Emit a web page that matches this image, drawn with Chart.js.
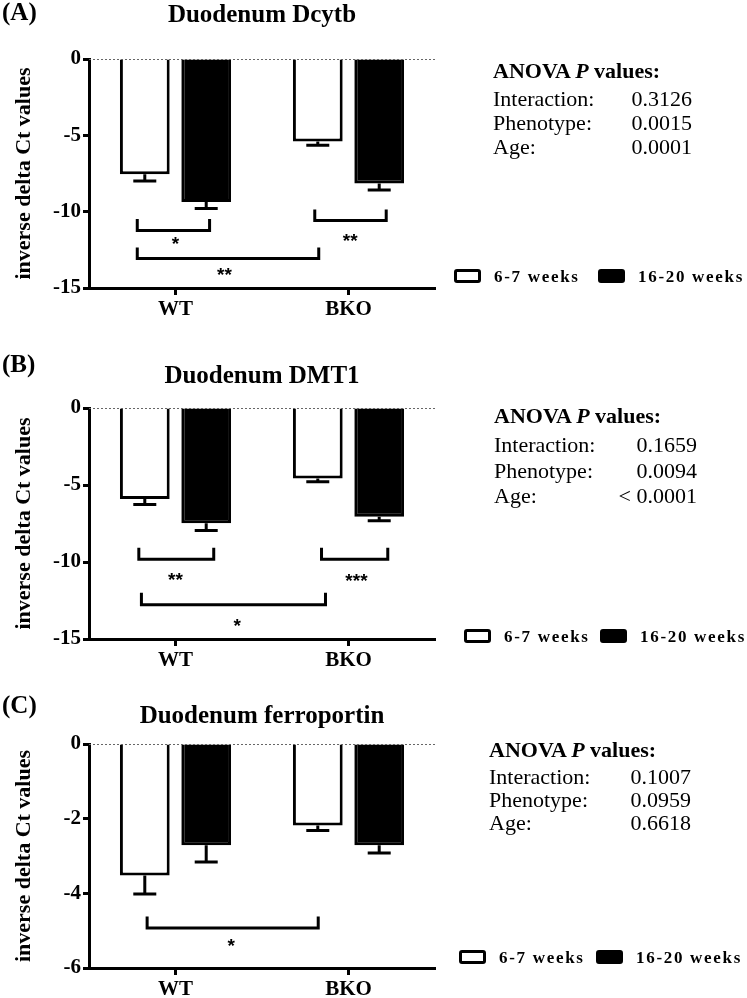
<!DOCTYPE html>
<html>
<head>
<meta charset="utf-8">
<script src="https://cdn.jsdelivr.net/npm/chart.js@4.4.1/dist/chart.umd.min.js"></script>
<style>
  body { margin: 0; background: #fff; }
  #page { position: relative; width: 747px; height: 998px; overflow: hidden; font-family: 'Liberation Serif', 'Times New Roman', serif; color: #000; }
  canvas { position: absolute; left: 0; }
  .abs { position: absolute; white-space: nowrap; }
  .big { font-size: 25px; line-height: 25px; font-weight: bold; }
  .anova { font-size: 22px; line-height: 22px; }
  .leg { font-size: 17px; line-height: 17px; font-weight: bold; letter-spacing: 1.7px; }
  .box { position: absolute; width: 21px; height: 8px; border: 3px solid #000; border-radius: 3px; }
</style>
</head>
<body>
<div id="page">
  <canvas id="chartA" width="747" height="320" style="top:0px"></canvas>
  <canvas id="chartB" width="747" height="360" style="top:320px"></canvas>
  <canvas id="chartC" width="747" height="318" style="top:680px"></canvas>
</div>
<script>
// groups and series
const groups = ['WT', 'BKO'];
const seriesNames = ['6-7 weeks', '16-20 weeks'];

// Duodenum Dcytb (mean, SEM)
const dcytbYoung = [-7.55, -5.41];
const dcytbYoungSem = [0.44, 0.24];
const dcytbOld = [-9.37, -8.15];
const dcytbOldSem = [0.42, 0.43];

// Duodenum DMT1
const dmt1Young = [-5.91, -4.58];
const dmt1YoungSem = [0.35, 0.21];
const dmt1Old = [-7.49, -7.06];
const dmt1OldSem = [0.47, 0.26];

// Duodenum ferroportin
const fpnYoung = [-3.52, -2.18];
const fpnYoungSem = [0.5, 0.14];
const fpnOld = [-2.71, -2.71];
const fpnOldSem = [0.45, 0.21];

// ANOVA P values
const anovaTerms = ['Interaction:', 'Phenotype:', 'Age:'];
const dcytbP = ['0.3126', '0.0015', '0.0001'];
const dmt1P = ['0.1659', '0.0094', '< 0.0001'];
const fpnP = ['0.1007', '0.0959', '0.6618'];

// significance brackets: [from group idx, to group idx, top value, bottom value, stars, star idx, star value]
const dcytbSig = [
  [-0.221, 0.197, -10.58, -11.23, '*', 0, -11.95],
  [-0.221, 0.828, -12.44, -13.07, '**', 0.283, -13.92],
  [0.805, 1.218, -9.96, -10.58, '**', 1.01, -11.73]
];
const dmt1Sig = [
  [-0.212, 0.221, -9.17, -9.82, '**', 0, -10.99],
  [0.844, 1.227, -9.17, -9.82, '***', 1.046, -11.03],
  [-0.197, 0.867, -12.09, -12.78, '*', 0.357, -13.96]
];
const fpnSig = [
  [-0.164, 0.825, -4.66, -4.93, '*', 0.322, -5.32]
];

const SERIF = "'Liberation Serif', 'Times New Roman', serif";

// error bars (down only), dotted zero line and brackets
const extrasPlugin = {
  id: 'extras',
  afterDatasetsDraw(chart, args, opts) {
    const ctx = chart.ctx;
    const xs = chart.scales.x, ys = chart.scales.y;
    const area = chart.chartArea;
    ctx.save();
    // dotted zero line
    ctx.strokeStyle = '#666';
    ctx.lineWidth = 1;
    ctx.setLineDash([2, 2]);
    ctx.beginPath();
    ctx.moveTo(area.left, ys.getPixelForValue(0) + 0.5);
    ctx.lineTo(area.right, ys.getPixelForValue(0) + 0.5);
    ctx.stroke();
    ctx.setLineDash([]);

    ctx.strokeStyle = '#000';
    ctx.lineWidth = 3;
    opts.errors.forEach((errs, di) => {
      chart.getDatasetMeta(di).data.forEach((bar, i) => {
        const v = chart.data.datasets[di].data[i];
        const yEnd = ys.getPixelForValue(v - errs[i]);
        ctx.beginPath();
        ctx.moveTo(bar.x, bar.y);
        ctx.lineTo(bar.x, yEnd);
        ctx.moveTo(bar.x - 11.5, yEnd);
        ctx.lineTo(bar.x + 11.5, yEnd);
        ctx.stroke();
      });
    });

    ctx.lineJoin = 'miter';
    ctx.lineCap = 'square';
    ctx.fillStyle = '#000';
    ctx.font = "bold 19px 'Liberation Sans', Arial, sans-serif";
    ctx.textAlign = 'center';
    ctx.textBaseline = 'alphabetic';
    opts.brackets.forEach(b => {
      const x1 = xs.getPixelForValue(b[0]), x2 = xs.getPixelForValue(b[1]);
      const yt = ys.getPixelForValue(b[2]), yb = ys.getPixelForValue(b[3]);
      ctx.beginPath();
      ctx.moveTo(x1, yt);
      ctx.lineTo(x1, yb);
      ctx.lineTo(x2, yb);
      ctx.lineTo(x2, yt);
      ctx.stroke();
      ctx.fillText(b[4], xs.getPixelForValue(b[5]), ys.getPixelForValue(b[6]) + 9);
    });
    ctx.restore();
  }
};

function makePanel(id, young, youngSem, old, oldSem, sig, yMin, step, topPad, xAxisH) {
  return new Chart(document.getElementById(id), {
    type: 'bar',
    data: {
      labels: groups,
      datasets: [
        { label: seriesNames[0], data: young, backgroundColor: '#fff', borderColor: '#000', borderWidth: 3, borderSkipped: 'start' },
        { label: seriesNames[1], data: old, backgroundColor: '#000', borderColor: '#000', borderWidth: 3, borderSkipped: 'start' }
      ]
    },
    options: {
      responsive: false,
      animation: false,
      categoryPercentage: 0.71,
      barPercentage: 0.81,
      layout: { padding: { top: topPad, left: 0, right: 312, bottom: 0 } },
      plugins: {
        legend: { display: false },
        tooltip: { enabled: false },
        extras: { errors: [youngSem, oldSem], brackets: sig }
      },
      scales: {
        x: {
          ticks: { color: '#000', font: { family: SERIF, size: 21, weight: 'bold' }, padding: 2 },
          grid: { offset: false, drawOnChartArea: false, tickLength: 7, tickWidth: 3, tickColor: '#000' },
          border: { color: '#000', width: 3 },
          afterFit: s => { s.height = xAxisH; }
        },
        y: {
          min: yMin,
          max: 0,
          ticks: { stepSize: step, color: '#000', font: { family: SERIF, size: 21, weight: 'bold' }, padding: 2 },
          grid: { drawOnChartArea: false, tickLength: 6, tickWidth: 3, tickColor: '#000' },
          border: { color: '#000', width: 3 },
          title: { display: true, text: 'inverse delta Ct values', color: '#000', font: { family: SERIF, size: 22, weight: 'bold' }, padding: { top: 11, bottom: 0 } },
          afterFit: s => { s.width = 89; }
        }
      }
    },
    plugins: [extrasPlugin]
  });
}

makePanel('chartA', dcytbYoung, dcytbYoungSem, dcytbOld, dcytbOldSem, dcytbSig, -15, 5, 59, 32);
makePanel('chartB', dmt1Young, dmt1YoungSem, dmt1Old, dmt1OldSem, dmt1Sig, -15, 5, 88, 41);
makePanel('chartC', fpnYoung, fpnYoungSem, fpnOld, fpnOldSem, fpnSig, -6, 2, 64, 30);

// text blocks
const page = document.getElementById('page');
function addText(cls, text, left, top, extra) {
  const d = document.createElement('div');
  d.className = 'abs ' + cls;
  d.textContent = text;
  d.style.left = left + 'px';
  d.style.top = top + 'px';
  if (extra) Object.assign(d.style, extra);
  page.appendChild(d);
  return d;
}
function addPanelText(letter, title, letterTop, titleTop) {
  addText('big', letter, 2, letterTop);
  addText('big', title, 62, titleTop, { width: '400px', textAlign: 'center' });
}
function addAnova(pvals, left, headTop, gap, step, right) {
  const h = addText('anova', '', left, headTop, { fontWeight: 'bold' });
  h.innerHTML = 'ANOVA <i>P</i> values:';
  anovaTerms.forEach((t, i) => {
    const top = headTop + gap + i * step;
    addText('anova', t, left, top);
    addText('anova', pvals[i], right - 200, top, { width: '200px', textAlign: 'right' });
  });
}
function addLegend(baseline, b1, t1, b2, t2) {
  const top = baseline - 14;
  const bx1 = document.createElement('div');
  bx1.className = 'box'; bx1.style.left = b1 + 'px'; bx1.style.top = (baseline - 13) + 'px'; bx1.style.background = '#fff';
  const bx2 = document.createElement('div');
  bx2.className = 'box'; bx2.style.left = b2 + 'px'; bx2.style.top = (baseline - 13) + 'px'; bx2.style.background = '#000';
  page.appendChild(bx1); page.appendChild(bx2);
  addText('leg', seriesNames[0], t1, top);
  addText('leg', seriesNames[1], t2, top);
}

addPanelText('(A)', 'Duodenum Dcytb', -1, 1);
addPanelText('(B)', 'Duodenum DMT1', 351, 362);
addPanelText('(C)', 'Duodenum ferroportin', 692, 702);

addAnova(dcytbP, 493, 60, 28, 24, 692);
addAnova(dmt1P, 494, 405, 29, 25.5, 697);
addAnova(fpnP, 489, 739, 27, 23, 691);

addLegend(282, 454, 494, 598, 638);
addLegend(642, 464, 504, 600, 640);
addLegend(963, 459, 499, 596, 636);
</script>
</body>
</html>
